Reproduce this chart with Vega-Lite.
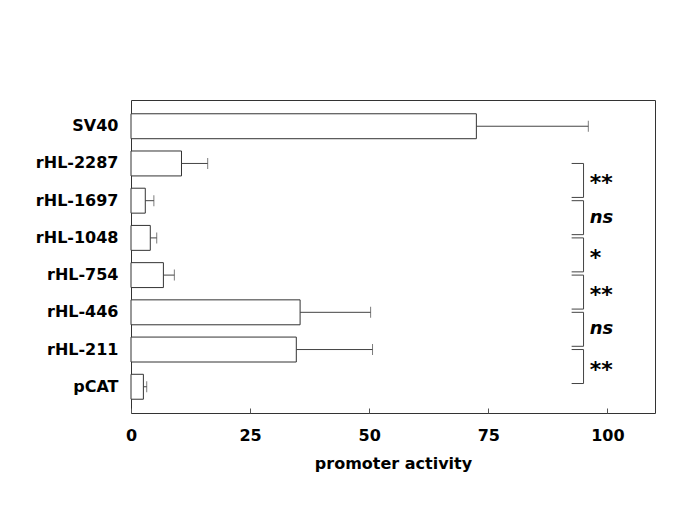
{
  "$schema": "https://vega.github.io/schema/vega-lite/v6.json",
  "width": 524,
  "height": 313,
  "autosize": "none",
  "padding": {"left": 131, "top": 100, "right": 30, "bottom": 100},
  "background": "white",
  "config": {
    "view": {"stroke": "#333", "strokeWidth": 1},
    "font": "DejaVu Sans"
  },
  "datasets": {
    "bars": [
      {"construct": "SV40", "activity": 72.5, "upper": 96.0},
      {"construct": "rHL-2287", "activity": 10.6, "upper": 16.1},
      {"construct": "rHL-1697", "activity": 3.0, "upper": 4.8},
      {"construct": "rHL-1048", "activity": 4.05, "upper": 5.4},
      {"construct": "rHL-754", "activity": 6.8, "upper": 9.1},
      {"construct": "rHL-446", "activity": 35.5, "upper": 50.3},
      {"construct": "rHL-211", "activity": 34.7, "upper": 50.7},
      {"construct": "pCAT", "activity": 2.6, "upper": 3.3}
    ],
    "sig": [
      {"from": "rHL-2287", "to": "rHL-1697", "label": "**", "kind": "star"},
      {"from": "rHL-1697", "to": "rHL-1048", "label": "ns", "kind": "ns"},
      {"from": "rHL-1048", "to": "rHL-754", "label": "*", "kind": "star"},
      {"from": "rHL-754", "to": "rHL-446", "label": "**", "kind": "star"},
      {"from": "rHL-446", "to": "rHL-211", "label": "ns", "kind": "ns"},
      {"from": "rHL-211", "to": "pCAT", "label": "**", "kind": "star"}
    ]
  },
  "encoding": {
    "y": {
      "field": "construct",
      "type": "nominal",
      "sort": ["SV40", "rHL-2287", "rHL-1697", "rHL-1048", "rHL-754", "rHL-446", "rHL-211", "pCAT"],
      "scale": {"domain": ["SV40", "rHL-2287", "rHL-1697", "rHL-1048", "rHL-754", "rHL-446", "rHL-211", "pCAT"], "paddingInner": 0.33, "paddingOuter": 0.37},
      "axis": {
        "title": null,
        "ticks": false,
        "domain": false,
        "labelFont": "DejaVu Sans",
        "labelFontSize": 16,
        "labelFontWeight": "bold",
        "labelColor": "black",
        "labelPadding": 13
      }
    }
  },
  "layer": [
    {
      "data": {"name": "bars"},
      "mark": {"type": "bar", "fill": "white", "stroke": "#333", "strokeWidth": 1},
      "encoding": {
        "x": {
          "field": "activity",
          "type": "quantitative",
          "scale": {"domain": [0, 110], "nice": false},
          "axis": {
            "title": "promoter activity",
            "values": [0, 25, 50, 75, 100],
            "grid": false,
            "domain": false,
            "labelFlush": false,
            "tickColor": "#555",
            "tickSize": -5,
            "labelFont": "DejaVu Sans",
            "labelFontSize": 16,
            "labelFontWeight": "bold",
            "labelColor": "black",
            "labelPadding": 19,
            "titleFont": "DejaVu Sans",
            "titleFontSize": 16,
            "titleFontWeight": "bold",
            "titleColor": "black",
            "titlePadding": 12
          }
        }
      }
    },
    {
      "data": {"name": "bars"},
      "mark": {"type": "rule", "stroke": "#444", "strokeWidth": 1},
      "encoding": {
        "x": {"field": "activity", "type": "quantitative"},
        "x2": {"field": "upper"}
      }
    },
    {
      "data": {"name": "bars"},
      "mark": {"type": "tick", "orient": "vertical", "color": "#444", "thickness": 1, "size": 11},
      "encoding": {
        "x": {"field": "upper", "type": "quantitative"}
      }
    },
    {
      "data": {"name": "sig"},
      "mark": {"type": "rule", "stroke": "#444", "strokeWidth": 1},
      "encoding": {
        "x": {"datum": 95, "type": "quantitative"},
        "y": {"field": "from", "type": "nominal"},
        "y2": {"field": "to", "bandPosition": 0.37}
      }
    },
    {
      "data": {"name": "sig"},
      "mark": {"type": "rule", "stroke": "#444", "strokeWidth": 1},
      "encoding": {
        "x": {"datum": 92.5, "type": "quantitative"},
        "x2": {"datum": 95},
        "y": {"field": "from", "type": "nominal"}
      }
    },
    {
      "data": {"name": "sig"},
      "mark": {"type": "rule", "stroke": "#444", "strokeWidth": 1},
      "encoding": {
        "x": {"datum": 92.5, "type": "quantitative"},
        "x2": {"datum": 95},
        "y": {"field": "to", "type": "nominal", "bandPosition": 0.37}
      }
    },
    {
      "data": {"name": "sig"},
      "transform": [{"filter": "datum.kind === 'star'"}],
      "mark": {"type": "text", "align": "left", "baseline": "alphabetic", "font": "DejaVu Sans", "fontSize": 22, "fontWeight": "bold", "color": "black", "dy": 27},
      "encoding": {
        "x": {"datum": 96.3, "type": "quantitative"},
        "y": {"field": "from", "type": "nominal"},
        "text": {"field": "label"}
      }
    },
    {
      "data": {"name": "sig"},
      "transform": [{"filter": "datum.kind === 'ns'"}],
      "mark": {"type": "text", "align": "left", "baseline": "alphabetic", "font": "DejaVu Sans", "fontSize": 18, "fontWeight": "bold", "fontStyle": "italic", "color": "black", "dy": 22},
      "encoding": {
        "x": {"datum": 96.3, "type": "quantitative"},
        "y": {"field": "from", "type": "nominal"},
        "text": {"field": "label"}
      }
    }
  ]
}
